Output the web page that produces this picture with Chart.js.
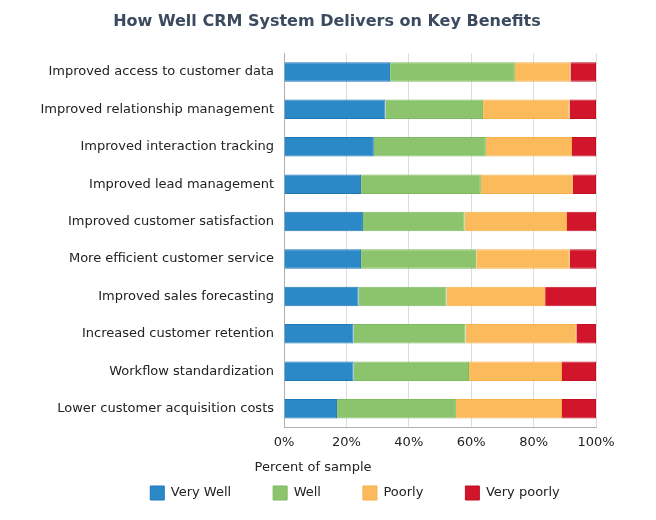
<!DOCTYPE html>
<html>
<head>
<meta charset="utf-8">
<script src="https://cdn.jsdelivr.net/npm/chart.js@4.4.1/dist/chart.umd.min.js"></script>
<style>
  html, body { margin: 0; padding: 0; background: #fff; }
  #wrap { width: 656px; height: 520px; }
</style>
</head>
<body>
<div id="wrap"><canvas id="crm-benefits-chart"></canvas></div>
<script>
var benefits = [
    'Improved access to customer data',
    'Improved relationship management',
    'Improved interaction tracking',
    'Improved lead management',
    'Improved customer satisfaction',
    'More efficient customer service',
    'Improved sales forecasting',
    'Increased customer retention',
    'Workflow standardization',
    'Lower customer acquisition costs'
];
var veryWell   = [34.0, 32.5, 28.8, 24.7, 25.3, 24.7, 23.9, 22.3, 22.3, 17.0];
var well       = [40.0, 31.3, 35.9, 38.4, 32.6, 36.9, 28.2, 35.9, 37.0, 38.1];
var poorly     = [17.8, 27.7, 27.6, 29.5, 32.8, 30.0, 31.6, 35.5, 29.8, 34.0];
var veryPoorly = [8.2, 8.5, 7.7, 7.4, 9.3, 8.4, 16.3, 6.3, 10.9, 10.9];
var xTicks = [0, 20, 40, 60, 80, 100];

var FONT = "'DejaVu Sans', Verdana, sans-serif";
Chart.defaults.font.family = FONT;
Chart.defaults.font.size = 13;
Chart.defaults.color = '#222';

// title and legend are not centred on the same line in the original,
// so move them after layout; axis title drawn by hand for the same reason
var placeBlocks = {
    id: 'placeBlocks',
    afterLayout: function (chart) {
	var t = chart.titleBlock, lg = chart.legend;
	t.left += 29; t.right += 29;
	lg.left += 57; lg.right += 57;
	lg.top -= 13; lg.bottom -= 13;
    },
    afterDraw: function (chart) {
	var ctx = chart.ctx;
	ctx.save();
	ctx.font = '13px ' + FONT;
	ctx.fillStyle = '#222';
	ctx.textAlign = 'center';
	ctx.textBaseline = 'middle';
	ctx.fillText('Percent of sample', chart.width / 2 - 15, chart.chartArea.bottom + 40);
	ctx.restore();
    }
};

function series(label, data, fill, line) {
    return {
	label: label,
	data: data,
	backgroundColor: fill,
	borderColor: line,
	borderWidth: 1,
	barPercentage: 0.52,
	categoryPercentage: 1
    };
}

new Chart(document.getElementById('crm-benefits-chart'), {
    type: 'bar',
    data: {
	labels: benefits,
	datasets: [
	    series('Very Well', veryWell, '#2a89c6', '#1f78b8'),
	    series('Well', well, '#8bc46c', '#7fba60'),
	    series('Poorly', poorly, '#fbbb5c', '#f5b04a'),
	    series('Very poorly', veryPoorly, '#d1152b', '#c01024')
	]
    },
    plugins: [placeBlocks],
    options: {
	indexAxis: 'y',
	responsive: true,
	maintainAspectRatio: false,
	animation: false,
	layout: { padding: { left: 0, right: 60, top: 8, bottom: 3 } },
	plugins: {
	    title: {
		display: true,
		text: 'How Well CRM System Delivers on Key Benefits',
		color: '#3b4a5e',
		font: { size: 16, weight: 'bold' },
		padding: { top: 4, bottom: 22 }
	    },
	    legend: {
		position: 'bottom',
		maxHeight: 60,
		labels: {
		    boxWidth: 14,
		    boxHeight: 14,
		    padding: 42,
		    color: '#222'
		}
	    },
	    tooltip: { enabled: false }
	},
	scales: {
	    x: {
		stacked: true,
		min: 0,
		max: 100,
		afterBuildTicks: function (scale) {
		    scale.ticks = xTicks.map(function (v) { return { value: v }; });
		},
		ticks: {
		    padding: 7,
		    callback: function (v) { return v + '%'; }
		},
		grid: { color: '#dcdcdc', drawTicks: false, lineWidth: 1 },
		border: { color: '#b0b0b0' }
	    },
	    y: {
		stacked: true,
		afterFit: function (scale) { scale.width = 284; },
		ticks: { padding: 10 },
		grid: { display: false, drawTicks: false },
		border: { color: '#b0b0b0' }
	    }
	}
    }
});
</script>
</body>
</html>
